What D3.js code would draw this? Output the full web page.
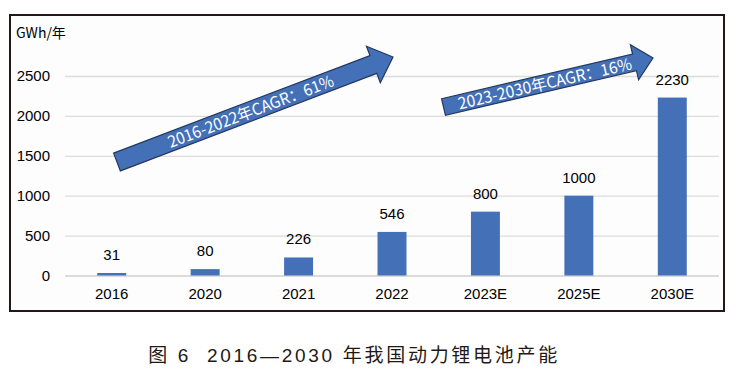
<!DOCTYPE html>
<html><head><meta charset="utf-8">
<script src="https://cdn.jsdelivr.net/npm/d3@7"></script>
<style>
body{margin:0;background:#fff;}
svg{display:block;}
</style></head>
<body>
<svg id="c" width="748" height="392"></svg>
<script>
const categories = ["2016","2020","2021","2022","2023E","2025E","2030E"];
const values = [31,80,226,546,800,1000,2230];
const yTicks = [0,500,1000,1500,2000,2500];
const unitLabel = "GWh/年";
const arrowLabels = ["2016-2022年CAGR：61%","2023-2030年CAGR：16%"];
const caption = "图 6  2016—2030 年我国动力锂电池产能";

const svg = d3.select("#c");
const font = "'Liberation Sans', Arial, 'Noto Sans CJK SC', sans-serif";

// frame
svg.append("rect").attr("x",10).attr("y",15).attr("width",714).attr("height",296)
  .attr("fill","#fdfdfd").attr("stroke","#231815").attr("stroke-width",2);

const x = d3.scaleBand().domain(categories).range([65,719]).paddingInner(0.69).paddingOuter(0.345);
const y = d3.scaleLinear().domain([0,2500]).range([275.5,76]);

// grid + y axis
const gy = svg.append("g").attr("transform","translate(65,0)")
  .call(d3.axisLeft(y).tickValues(yTicks).tickSize(-654).tickPadding(15).tickFormat(d3.format("d")));
gy.select(".domain").remove();
gy.selectAll(".tick line").attr("stroke",d=>d===0?"#cfcfcf":"#dcdcdc").attr("stroke-width",1.3);
gy.selectAll(".tick text").attr("font-family",font).attr("font-size",15).attr("fill","#000");

// x axis labels
const gx = svg.append("g").attr("transform","translate(0,275.5)")
  .call(d3.axisBottom(x).tickSize(0).tickPadding(13));
gx.select(".domain").remove();
gx.selectAll(".tick text").attr("font-family",font).attr("font-size",15).attr("fill","#000");

// bars
svg.append("g").selectAll("rect").data(values).join("rect")
  .attr("x",(d,i)=>x(categories[i])).attr("width",x.bandwidth())
  .attr("y",d=>y(d)).attr("height",d=>y(0)-y(d)).attr("fill","#4470b8");

// value labels
svg.append("g").selectAll("text").data(values).join("text")
  .attr("x",(d,i)=>x(categories[i])+x.bandwidth()/2).attr("y",d=>y(d)-13)
  .attr("text-anchor","middle").attr("font-family",font).attr("font-size",15).attr("fill","#000")
  .text(d=>d);

// unit
svg.append("text").attr("x",16).attr("y",38).attr("font-family","'Noto Sans CJK SC', sans-serif")
  .attr("font-size",14).attr("fill","#000").text(unitLabel);

// arrows
function arrow(tx,ty,hx,hy,halfW,headHalf,headLen,label,textLen,textOff){
  const dx=hx-tx, dy=hy-ty, L=Math.hypot(dx,dy), ang=Math.atan2(dy,dx)*180/Math.PI;
  const g=svg.append("g").attr("transform",`translate(${tx},${ty}) rotate(${ang})`);
  const pts=[[0,-halfW],[L-headLen,-halfW],[L-headLen,-headHalf],[L,0],[L-headLen,headHalf],[L-headLen,halfW],[0,halfW]];
  g.append("polygon").attr("points",pts.map(p=>p.join(",")).join(" "))
    .attr("fill","#4470b8").attr("stroke","#22385e").attr("stroke-width",1.2);
  g.append("text").attr("x",textOff).attr("y",6).attr("font-family","'Noto Sans CJK SC', sans-serif")
    .attr("font-size",16).attr("fill","#fff").attr("textLength",textLen).attr("lengthAdjust","spacingAndGlyphs")
    .text(label);
}
arrow(117,162,393,57,9.5,19.5,21,arrowLabels[0],176,55);
arrow(443.5,107,653,58,8.5,18,19,arrowLabels[1],178,15);

// caption
svg.append("text").attr("x",354).attr("y",362).attr("text-anchor","middle")
  .attr("font-family","'Liberation Sans', 'Noto Sans CJK SC', sans-serif").attr("font-size",19)
  .attr("letter-spacing",2.7).attr("fill","#231815").attr("xml:space","preserve").text(caption);
</script>
</body></html>
